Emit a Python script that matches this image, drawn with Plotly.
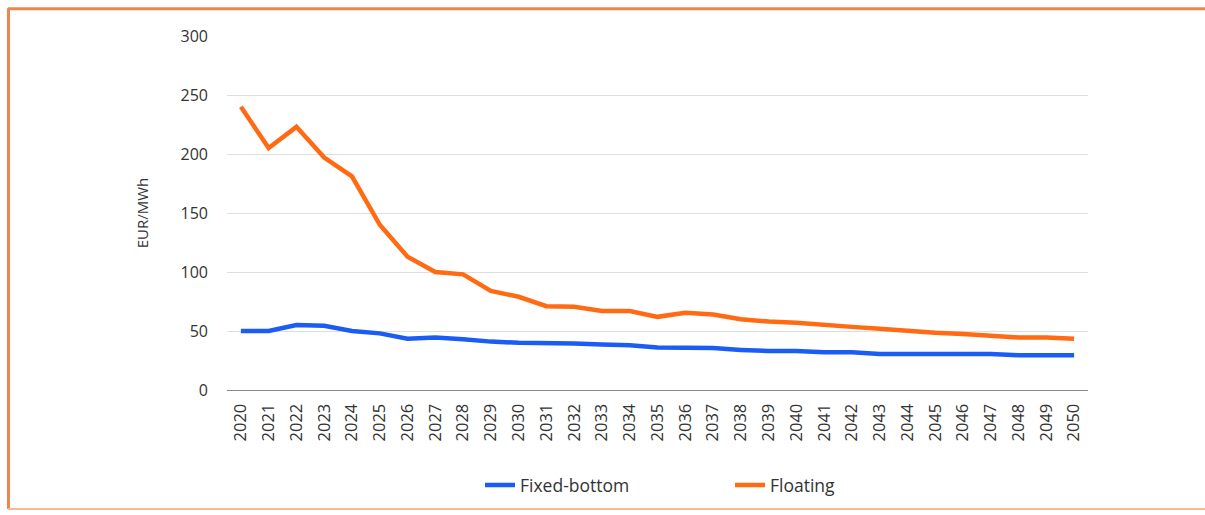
import plotly.graph_objects as go

years = [str(y) for y in range(2020, 2051)]
fixed_bottom = [50, 50, 55, 54.5, 50, 48, 43.5, 44.5, 43, 41, 40, 40, 39.5, 38.5, 38, 36, 36,
                35.5, 34, 33, 33, 32, 32, 30.5, 30.5, 30.5, 30.5, 30.5, 29.5, 29.5, 29.5]
floating = [240, 205, 223, 197, 181, 140, 113, 100, 98, 84, 79, 71, 70.5, 67, 67, 62, 65.5,
            64, 60, 58, 57, 55, 53.5, 52, 50, 48.5, 47.5, 46, 44.5, 44.5, 43.5]
y_ticks = [0, 50, 100, 150, 200, 250, 300]

BLUE = "#1b5cf5"
ORANGE = "#ff6a13"
FONT = "Open Sans"

fig = go.Figure()
fig.add_trace(go.Scatter(x=years, y=fixed_bottom, name="Fixed-bottom", mode="lines",
                         line=dict(color=BLUE, width=4.5)))
fig.add_trace(go.Scatter(x=years, y=floating, name="Floating", mode="lines",
                         line=dict(color=ORANGE, width=4.5)))

W, H = 1205, 515
L, R, T, B = 227, 117, 36, 122
pw, ph = W - L - R, H - T - B


def px(x):
    return (x - L) / pw


def py(y):
    return (H - B - y) / ph


border = "#f0844c"
shapes = [
    dict(type="line", xref="paper", yref="paper", x0=px(8.5), x1=px(8.5), y0=py(8), y1=py(513),
         line=dict(color=border, width=3)),
    dict(type="line", xref="paper", yref="paper", x0=px(8), x1=px(1205), y0=py(8.5), y1=py(8.5),
         line=dict(color=border, width=3)),
    dict(type="line", xref="paper", yref="paper", x0=px(8), x1=px(1205), y0=py(513), y1=py(513),
         line=dict(color="#f7b894", width=2)),
]

fig.update_layout(
    width=W, height=H,
    margin=dict(l=L, r=R, t=T, b=B),
    paper_bgcolor="white", plot_bgcolor="white",
    font=dict(family=FONT, size=15, color="#333333"),
    showlegend=True,
    legend=dict(orientation="h", x=px(480), xanchor="left", y=py(489), yanchor="middle",
                entrywidth=205, entrywidthmode="pixels", font=dict(size=17.5, color="#333333")),
    shapes=shapes,
    xaxis=dict(type="category", range=[-0.5, 30.5], tickangle=-90, showgrid=False,
               showline=True, linecolor="#888888", linewidth=1.2, ticks="",
               ticklabelstandoff=6, tickfont=dict(size=16.5)),
    yaxis=dict(range=[0, 300], tickvals=y_ticks, showgrid=True, gridcolor="#dedede",
               gridwidth=1, zeroline=False, showline=False, ticks="",
               ticklabelstandoff=18, tickfont=dict(size=16)),
)
fig.update_yaxes(title=dict(text="EUR/MWh", font=dict(size=15), standoff=28))

fig.write_html("out.html", config={"displayModeBar": False},
               post_script="document.body.style.margin='0';document.body.style.overflow='hidden';")
